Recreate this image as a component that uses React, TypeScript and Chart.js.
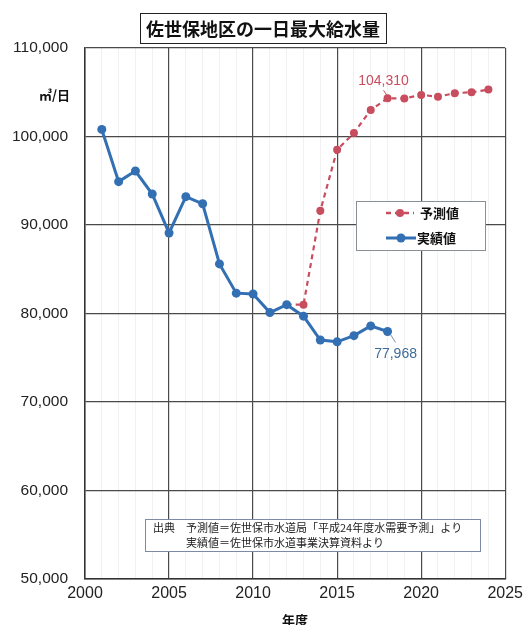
import React, { useEffect, useRef } from "react";
import { Chart, registerables } from "chart.js";

Chart.register(...registerables);

const actualYears = [2001, 2002, 2003, 2004, 2005, 2006, 2007, 2008, 2009, 2010, 2011, 2012, 2013, 2014, 2015, 2016, 2017, 2018];
const actualValues = [100800, 94900, 96100, 93500, 89100, 93200, 92400, 85600, 82300, 82200, 80100, 81000, 79700, 77000, 76800, 77500, 78600, 77968];

const forecastYears = [2012, 2013, 2014, 2015, 2016, 2017, 2018, 2019, 2020, 2021, 2022, 2023, 2024];
const forecastValues = [81000, 81000, 91600, 98500, 100400, 103000, 104310, 104300, 104700, 104500, 104900, 105000, 105300];

const xTickLabels = [2000, 2005, 2010, 2015, 2020, 2025];
const yTickLabels = [50000, 60000, 70000, 80000, 90000, 100000, 110000];

const TITLE = "佐世保地区の一日最大給水量";
const UNIT = "㎥/日";
const X_TITLE = "年度";
const LEGEND_FORECAST = "予測値";
const LEGEND_ACTUAL = "実績値";
const SOURCE_LINE1 = "出典　予測値＝佐世保市水道局「平成24年度水需要予測」より";
const SOURCE_LINE2 = "実績値＝佐世保市水道事業決算資料より";

const BLUE = "#336fb3";
const RED = "#c84d5e";
const CJK = '"Noto Sans CJK JP", sans-serif';
const NUM = '"Liberation Sans", Arial, sans-serif';

const fmt = (v: number) => v.toLocaleString("en-US");

export default function App() {
  const ref = useRef<HTMLCanvasElement | null>(null);

  useEffect(() => {
    if (!ref.current) return;

    const overlay = {
      id: "overlay",
      afterDraw(chart: any) {
        const ctx = chart.ctx as CanvasRenderingContext2D;
        const xs = chart.scales.x;
        const ys = chart.scales.y;
        ctx.save();

        // Title box
        ctx.font = `bold 18px ${CJK}`;
        ctx.textAlign = "center";
        ctx.textBaseline = "middle";
        const tw = ctx.measureText(TITLE).width;
        const tcx = 263;
        const tcy = 28;
        ctx.fillStyle = "#fff";
        ctx.fillRect(tcx - tw / 2 - 6, tcy - 15, tw + 12, 30);
        ctx.strokeStyle = "#222";
        ctx.lineWidth = 1;
        ctx.strokeRect(tcx - tw / 2 - 6 + 0.5, tcy - 15 + 0.5, tw + 12, 30);
        ctx.fillStyle = "#111";
        ctx.fillText(TITLE, tcx, tcy + 1);

        // Unit
        ctx.font = `bold 13px ${CJK}`;
        ctx.textAlign = "left";
        ctx.fillText(UNIT, 39, 95);

        // X title
        ctx.textAlign = "center";
        ctx.fillText(X_TITLE, (xs.left + xs.right) / 2, 620);

        // Legend box
        const lx = 356, ly = 201, lw = 129, lh = 49;
        ctx.fillStyle = "#fff";
        ctx.fillRect(lx, ly, lw, lh);
        ctx.strokeStyle = "#8a8f98";
        ctx.lineWidth = 1;
        ctx.strokeRect(lx + 0.5, ly + 0.5, lw, lh);
        // forecast
        ctx.strokeStyle = RED;
        ctx.lineWidth = 2.5;
        ctx.setLineDash([5, 4]);
        ctx.beginPath();
        ctx.moveTo(386, 213);
        ctx.lineTo(414, 213);
        ctx.stroke();
        ctx.setLineDash([]);
        ctx.fillStyle = RED;
        ctx.beginPath();
        ctx.arc(400, 213, 4, 0, Math.PI * 2);
        ctx.fill();
        // actual
        ctx.strokeStyle = BLUE;
        ctx.lineWidth = 3;
        ctx.beginPath();
        ctx.moveTo(386, 238);
        ctx.lineTo(416, 238);
        ctx.stroke();
        ctx.fillStyle = BLUE;
        ctx.beginPath();
        ctx.arc(401, 238, 4.5, 0, Math.PI * 2);
        ctx.fill();
        ctx.fillStyle = "#111";
        ctx.font = `bold 13px ${CJK}`;
        ctx.textAlign = "left";
        ctx.fillText(LEGEND_FORECAST, 420, 213);
        ctx.fillText(LEGEND_ACTUAL, 417, 238);

        // Source box
        const sx = 145, sy = 519, sw = 335, sh = 32;
        ctx.fillStyle = "#fff";
        ctx.fillRect(sx, sy, sw, sh);
        ctx.strokeStyle = "#7d8aa6";
        ctx.lineWidth = 1;
        ctx.strokeRect(sx + 0.5, sy + 0.5, sw, sh);
        ctx.fillStyle = "#222";
        ctx.font = `11px ${CJK}`;
        ctx.fillText(SOURCE_LINE1, 153, 528);
        ctx.fillText(SOURCE_LINE2, 186, 543);

        // Annotation: forecast 2018
        const fi = forecastYears.indexOf(2018);
        const fpx = xs.getPixelForValue(forecastYears[fi]);
        const fpy = ys.getPixelForValue(forecastValues[fi]);
        ctx.strokeStyle = RED;
        ctx.lineWidth = 1;
        ctx.beginPath();
        ctx.moveTo(fpx - 4, fpy - 8);
        ctx.lineTo(fpx, fpy - 2);
        ctx.stroke();
        ctx.fillStyle = RED;
        ctx.font = `14px ${NUM}`;
        ctx.textAlign = "center";
        ctx.fillText(fmt(forecastValues[fi]), fpx - 4, fpy - 17);

        // Annotation: actual last
        const ai = actualYears.length - 1;
        const apx = xs.getPixelForValue(actualYears[ai]);
        const apy = ys.getPixelForValue(actualValues[ai]);
        ctx.strokeStyle = "#7a8ca8";
        ctx.beginPath();
        ctx.moveTo(apx + 3, apy + 3);
        ctx.lineTo(apx + 8, apy + 11);
        ctx.stroke();
        ctx.fillStyle = "#3d6c9c";
        ctx.fillText(fmt(actualValues[ai]), apx + 8, apy + 23);

        ctx.restore();
      },
    };

    const chart = new Chart(ref.current, {
      type: "line",
      data: {
        datasets: [
          {
            label: LEGEND_ACTUAL,
            data: actualYears.map((x, i) => ({ x, y: actualValues[i] })),
            borderColor: BLUE,
            backgroundColor: BLUE,
            borderWidth: 3,
            pointRadius: 4.5,
            pointBorderWidth: 0,
            pointBackgroundColor: BLUE,
            tension: 0,
            order: 0,
          },
          {
            label: LEGEND_FORECAST,
            data: forecastYears.map((x, i) => ({ x, y: forecastValues[i] })),
            borderColor: RED,
            backgroundColor: RED,
            borderWidth: 2.2,
            borderDash: [5, 4],
            pointRadius: forecastYears.map((_, i) => (i === 0 ? 0 : 4)),
            pointBorderWidth: 0,
            pointBackgroundColor: RED,
            tension: 0,
            order: 1,
          },
        ],
      },
      options: {
        responsive: false,
        animation: false,
        events: [],
        layout: { padding: { left: 0, right: 20, top: 48, bottom: 0 } },
        plugins: {
          legend: { display: false },
          tooltip: { enabled: false },
          title: { display: false },
        },
        scales: {
          x: {
            type: "linear",
            min: xTickLabels[0],
            max: xTickLabels[xTickLabels.length - 1],
            afterBuildTicks: (scale: any) => {
              const t: any[] = [];
              for (let v = xTickLabels[0]; v <= xTickLabels[xTickLabels.length - 1]; v++) t.push({ value: v });
              scale.ticks = t;
            },
            afterFit: (scale: any) => {
              scale.height = 46;
            },
            ticks: {
              autoSkip: false,
              maxRotation: 0,
              padding: 5,
              color: "#222",
              font: { family: NUM, size: 16 },
              callback: (v: any) => (xTickLabels.includes(Number(v)) ? String(v) : ""),
            },
            grid: {
              drawTicks: false,
              color: (c: any) => (c.tick && xTickLabels.includes(c.tick.value) ? "#4a4a4a" : "#f1f1f1"),
              lineWidth: (c: any) => (c.tick && xTickLabels.includes(c.tick.value) ? 1.2 : 1),
            },
            border: { display: true, color: "#333", width: 1.5 },
          },
          y: {
            type: "linear",
            min: yTickLabels[0],
            max: yTickLabels[yTickLabels.length - 1],
            afterBuildTicks: (scale: any) => {
              scale.ticks = yTickLabels.map((v) => ({ value: v }));
            },
            afterFit: (scale: any) => {
              scale.width = 85;
            },
            ticks: {
              padding: 17,
              color: "#222",
              font: { family: NUM, size: 15.5 },
              callback: (v: any) => fmt(Number(v)),
            },
            grid: {
              drawTicks: false,
              color: "#4a4a4a",
              lineWidth: 1.2,
            },
            border: { display: true, color: "#333", width: 1.5 },
          },
        },
      },
      plugins: [overlay],
    } as any);

    return () => chart.destroy();
  }, []);

  return (
    <div style={{ position: "absolute", left: 0, top: 0, width: 528, height: 625, background: "#fff" }}>
      <canvas ref={ref} width={528} height={625} style={{ display: "block" }} />
    </div>
  );
}
